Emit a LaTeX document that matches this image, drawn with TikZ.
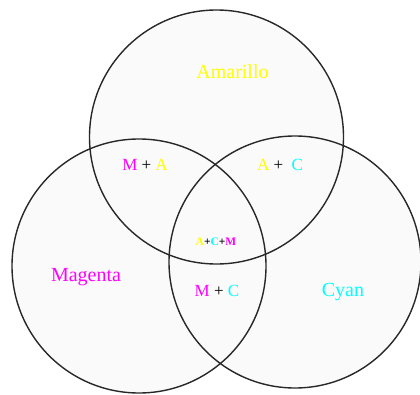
\documentclass[tikz,border=0pt]{standalone}
\usepackage{fontspec}
\setmainfont{Liberation Serif}
\definecolor{cy}{RGB}{0,255,255}
\definecolor{ye}{RGB}{255,255,0}
\definecolor{ma}{RGB}{255,0,255}
\definecolor{bg}{RGB}{250,250,250}
\definecolor{ln}{RGB}{40,40,40}
\tikzset{
  ring/.style={draw=ln,line width=1.4pt},
  big/.style={font=\fontsize{20}{22}\selectfont,inner sep=0pt},
  mid/.style={font=\fontsize{17}{19}\selectfont,inner sep=0pt},
  tiny/.style={font=\fontsize{11.5}{13}\selectfont\bfseries,inner sep=0pt}
}
\begin{document}
\begin{tikzpicture}[x=1pt,y=-1pt]
\useasboundingbox (0,0) rectangle (420,394);
\coordinate (ct) at (216.5,137);
\coordinate (cl) at (139,266);
\coordinate (cr) at (295,262);
\fill[bg] (ct) circle (127) (cl) circle (127) (cr) circle (126);
\draw[ring] (ct) circle (127);
\draw[ring] (cl) circle (127);
\draw[ring] (cr) circle (126);
\node[big,text=ye] (am) at (232.5,72) {Amarillo};
\node[big,text=ma] (mg) at (86,277) {Magenta};
\node[big,text=cy] (cn) at (343,292) {Cyan};
\node[mid] (ma) at (145,165) {\textcolor{ma}{M} + \textcolor{ye}{A}};
\node[mid] (ac) at (280,165) {\textcolor{ye}{A} +\ \ \textcolor{cy}{C}};
\node[mid] (mc) at (217,291) {\textcolor{ma}{M} + \textcolor{cy}{C}};
\node[tiny] (acm) at (216,242) {\textcolor{ye}{A}+\textcolor{cy}{C}+\textcolor{ma}{M}};
\end{tikzpicture}
\end{document}
